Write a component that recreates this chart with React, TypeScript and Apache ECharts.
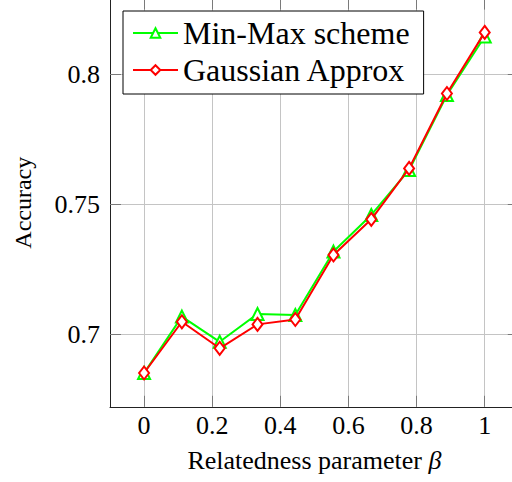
import React, { useEffect, useRef } from 'react';
import * as echarts from 'echarts';

const betaValues = [0, 0.111, 0.222, 0.333, 0.444, 0.556, 0.667, 0.778, 0.889, 1];
const minMaxAccuracy = [0.685, 0.7067, 0.697, 0.7077, 0.7073, 0.7317, 0.7458, 0.7631, 0.7919, 0.8144];
const gaussianAccuracy = [0.685, 0.7047, 0.6945, 0.7037, 0.7056, 0.7304, 0.7441, 0.7637, 0.7925, 0.816];
const xTicks = [0, 0.2, 0.4, 0.6, 0.8, 1];
const yTicks = [0.7, 0.75, 0.8];
const seriesNames = ['Min-Max scheme', 'Gaussian Approx'];

const FONT = 'Liberation Serif';

export default function App() {
  const ref = useRef<HTMLDivElement>(null);
  useEffect(() => {
    if (!ref.current) return;
    const chart = echarts.init(ref.current, undefined, { renderer: 'svg' });
    const gridColor = '#c4c4c4';
    const tickStyle = { show: true, inside: true, length: 11, lineStyle: { color: '#7a7a7a', width: 1 } };
    const axisLineStyle = { color: '#222', width: 1 };
    const pairs = (ys: number[]) => betaValues.map((x, i) => [x, ys[i]]);
    chart.setOption({
      animation: false,
      backgroundColor: '#fff',
      textStyle: { fontFamily: FONT },
      grid: { left: 110, top: -1.4, width: 408.8, height: 408.2, containLabel: false, outerBoundsMode: 'none' },
      legend: {
        left: 123,
        top: 11,
        orient: 'vertical',
        backgroundColor: '#fff',
        borderColor: '#000',
        borderWidth: 1,
        borderRadius: 0,
        padding: [5, 14, 7, 9],
        itemWidth: 45,
        itemHeight: 12,
        itemGap: 3,
        textStyle: { fontFamily: FONT, fontSize: 32, color: '#000', lineHeight: 34 },
        data: seriesNames,
      },
      xAxis: [
        {
          type: 'value',
          min: -0.1,
          max: 1.1,
          position: 'bottom',
          name: 'Relatedness parameter {i|β}',
          nameLocation: 'middle',
          nameGap: 41,
          nameTextStyle: {
            fontFamily: FONT,
            fontSize: 26,
            color: '#000',
            rich: { i: { fontFamily: FONT, fontSize: 26, fontStyle: 'italic', color: '#000' } },
          },
          axisLine: { show: true, onZero: false, lineStyle: axisLineStyle },
          axisTick: { ...tickStyle, customValues: xTicks },
          axisLabel: {
            customValues: xTicks,
            margin: 6,
            fontFamily: FONT,
            fontSize: 26,
            color: '#000',
            formatter: (v: number) => String(v),
          },
          splitLine: { show: true, lineStyle: { color: gridColor, width: 1 } },
        },
        {
          type: 'value',
          min: -0.1,
          max: 1.1,
          position: 'top',
          axisLine: { show: true, onZero: false, lineStyle: axisLineStyle },
          axisTick: { ...tickStyle, customValues: xTicks },
          axisLabel: { show: false },
          splitLine: { show: false },
        },
      ],
      yAxis: [
        {
          type: 'value',
          min: 0.672,
          max: 0.829,
          position: 'left',
          name: 'Accuracy',
          nameLocation: 'middle',
          nameGap: 75,
          nameTextStyle: { fontFamily: FONT, fontSize: 24, color: '#000' },
          axisLine: { show: true, onZero: false, lineStyle: axisLineStyle },
          axisTick: { ...tickStyle, customValues: yTicks },
          axisLabel: {
            customValues: yTicks,
            margin: 10,
            fontFamily: FONT,
            fontSize: 26,
            color: '#000',
            formatter: (v: number) => String(v),
          },
          splitLine: { show: true, lineStyle: { color: gridColor, width: 1 } },
        },
        {
          type: 'value',
          min: 0.672,
          max: 0.829,
          position: 'right',
          axisLine: { show: true, onZero: false, lineStyle: axisLineStyle },
          axisTick: { ...tickStyle, customValues: yTicks },
          axisLabel: { show: false },
          splitLine: { show: false },
        },
      ],
      series: [
        {
          name: seriesNames[0],
          type: 'line',
          data: pairs(minMaxAccuracy),
          symbol: 'emptyTriangle',
          symbolSize: 12,
          lineStyle: { color: '#00ff00', width: 2 },
          itemStyle: { color: '#00ff00', borderColor: '#00ff00', borderWidth: 2 },
          z: 3,
        },
        {
          name: seriesNames[1],
          type: 'line',
          data: pairs(gaussianAccuracy),
          symbol: 'emptyDiamond',
          symbolSize: [10, 13],
          lineStyle: { color: '#ff0000', width: 2 },
          itemStyle: { color: '#ff0000', borderColor: '#ff0000', borderWidth: 2 },
          z: 4,
        },
      ],
    });
    return () => chart.dispose();
  }, []);
  return <div ref={ref} style={{ position: 'absolute', left: 0, top: 0, width: 512, height: 482 }} />;
}
